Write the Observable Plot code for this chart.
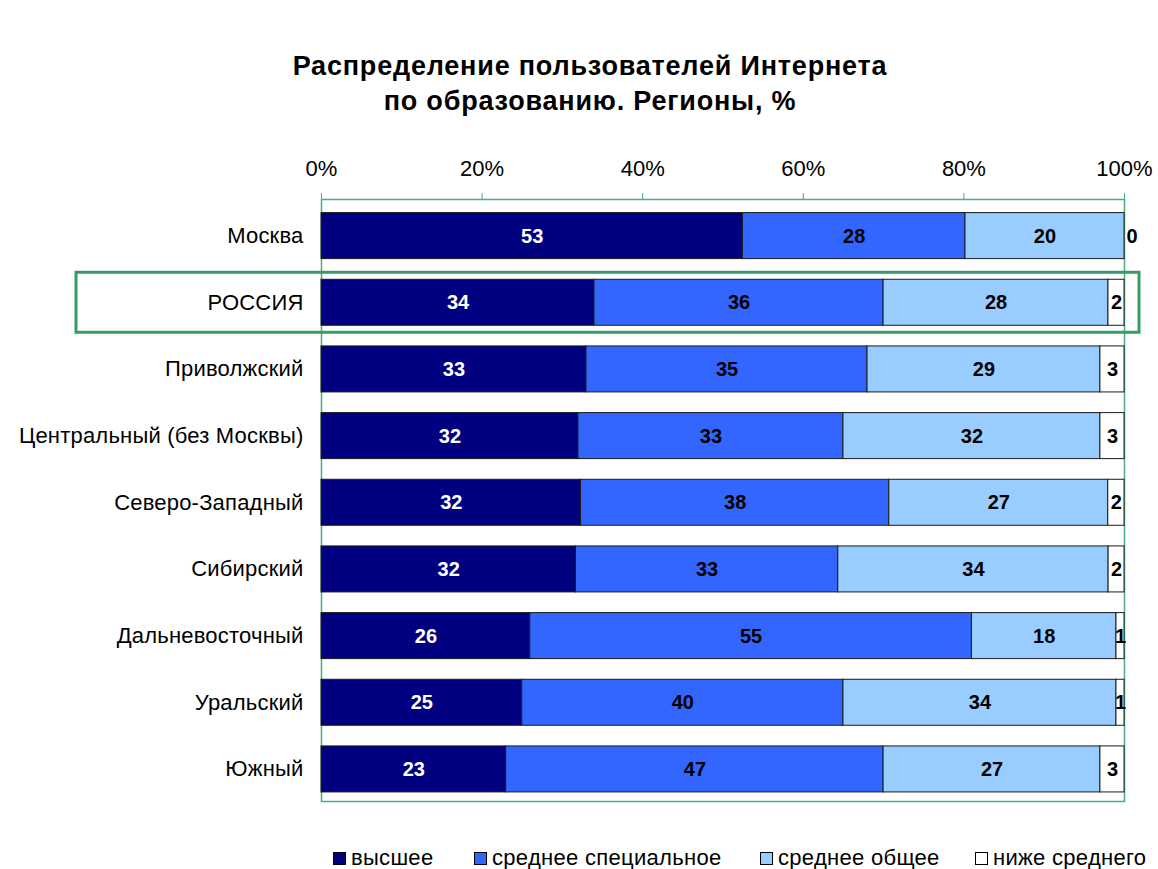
<!DOCTYPE html>
<html><head><meta charset="utf-8">
<script src="https://cdn.jsdelivr.net/npm/d3@7"></script>
<script src="https://cdn.jsdelivr.net/npm/@observablehq/plot@0.6"></script>
<style>
body{margin:0;background:#fff;font-family:"Liberation Sans",Arial,sans-serif;color:#000;width:1158px;height:869px;overflow:hidden}
#title{font-weight:bold;font-size:27px;letter-spacing:0.8px;line-height:35px;text-align:center;padding-top:49px;padding-left:22px;height:81px}
#chart{height:676px}
#legend{display:flex;align-items:center;margin-top:40px;padding-left:333px;font-size:22px;letter-spacing:0.3px;height:24px}
.item{display:flex;align-items:center}
.sw{width:11px;height:11px;border:1px solid #000;margin-right:5px}
g[aria-label^="x-axis"] line, g[aria-label^="x-axis"] path{stroke:#4dab7c}
g[aria-label="x-axis tick"] path{stroke:#4dab7c}
g[aria-label^="y-axis"] text{letter-spacing:0.2px}
</style></head><body>
<div id="title">Распределение пользователей Интернета<br>по образованию. Регионы, %</div>
<div id="chart"></div>
<div id="legend"></div>
<script>
const regions = ["Москва","РОССИЯ","Приволжский","Центральный (без Москвы)","Северо-Западный","Сибирский","Дальневосточный","Уральский","Южный"];
const series = ["высшее","среднее специальное","среднее общее","ниже среднего"];
const higher = [53,34,33,32,32,32,26,25,23];
const secondarySpecial = [28,36,35,33,38,33,55,40,47];
const secondaryGeneral = [20,28,29,32,27,34,18,34,27];
const belowSecondary = [0,2,3,3,2,2,1,1,3];
const colors = ["#000080","#3366FF","#99CCFF","#FFFFFF"];
const xTicks = [0,0.2,0.4,0.6,0.8,1];
const highlight = "РОССИЯ";

const seriesValues = [higher, secondarySpecial, secondaryGeneral, belowSecondary];
const rows = [];
regions.forEach((r, i) => {
  const vals = seriesValues.map(a => a[i]);
  const total = d3.sum(vals);
  let cum = 0;
  vals.forEach((v, k) => {
    const x1 = cum / total; cum += v; const x2 = cum / total;
    rows.push({region: r, series: series[k], value: v, x1, x2, mid: (x1 + x2) / 2});
  });
});

const plot = Plot.plot({
  width: 1158,
  height: 676,
  marginTop: 69,
  marginBottom: 5,
  marginLeft: 321,
  marginRight: 34,
  style: {fontSize: "22px", fontFamily: '"Liberation Sans", Arial, sans-serif', color: "#000", background: "#fff", overflow: "visible"},
  x: {domain: [0, 1], axis: "top", ticks: xTicks, tickFormat: d3.format(".0%"), label: null, tickSize: 7, tickPadding: 17},
  y: {domain: regions, paddingInner: 0.31, paddingOuter: 0.17, align: 0.6, round: false, label: null, tickSize: 0, tickPadding: 18},
  color: {domain: series, range: colors},
  marks: [
    Plot.frame({stroke: "#4dab7c", strokeWidth: 1.5}),
    Plot.barX(rows, {y: "region", x1: "x1", x2: "x2", fill: "series", stroke: "#1a1a1a", strokeWidth: 1}),
    Plot.text(rows.filter(d => d.series === series[0]), {y: "region", x: "mid", text: d => String(d.value), fill: "white", fontWeight: "bold", fontSize: 20}),
    Plot.text(rows.filter(d => d.series !== series[0] && d.value > 0), {y: "region", x: "mid", text: d => String(d.value), fill: "black", fontWeight: "bold", fontSize: 20}),
    Plot.text(rows.filter(d => d.value === 0), {y: "region", x: "x2", text: d => String(d.value), fill: "black", fontWeight: "bold", fontSize: 20, textAnchor: "start", dx: 2})
  ]
});
document.getElementById("chart").appendChild(plot);

const ys = plot.scale("y"), xs = plot.scale("x");
const yTop = ys.apply(highlight), bw = ys.bandwidth;
d3.select(plot).append("rect")
  .attr("x", 76).attr("y", yTop - 7)
  .attr("width", xs.apply(1) + 15 - 76).attr("height", bw + 14)
  .attr("fill", "none").attr("stroke", "#3a9b6a").attr("stroke-width", 3);

const legendLeft = [333, 474, 760, 975];
const legend = document.getElementById("legend");
series.forEach((s, k) => {
  const it = document.createElement("div"); it.className = "item";
  it.style.position = "absolute"; it.style.left = legendLeft[k] + "px";
  const sw = document.createElement("div"); sw.className = "sw"; sw.style.background = colors[k];
  const t = document.createElement("span"); t.textContent = s;
  it.appendChild(sw); it.appendChild(t); legend.appendChild(it);
});
</script>
</body></html>
